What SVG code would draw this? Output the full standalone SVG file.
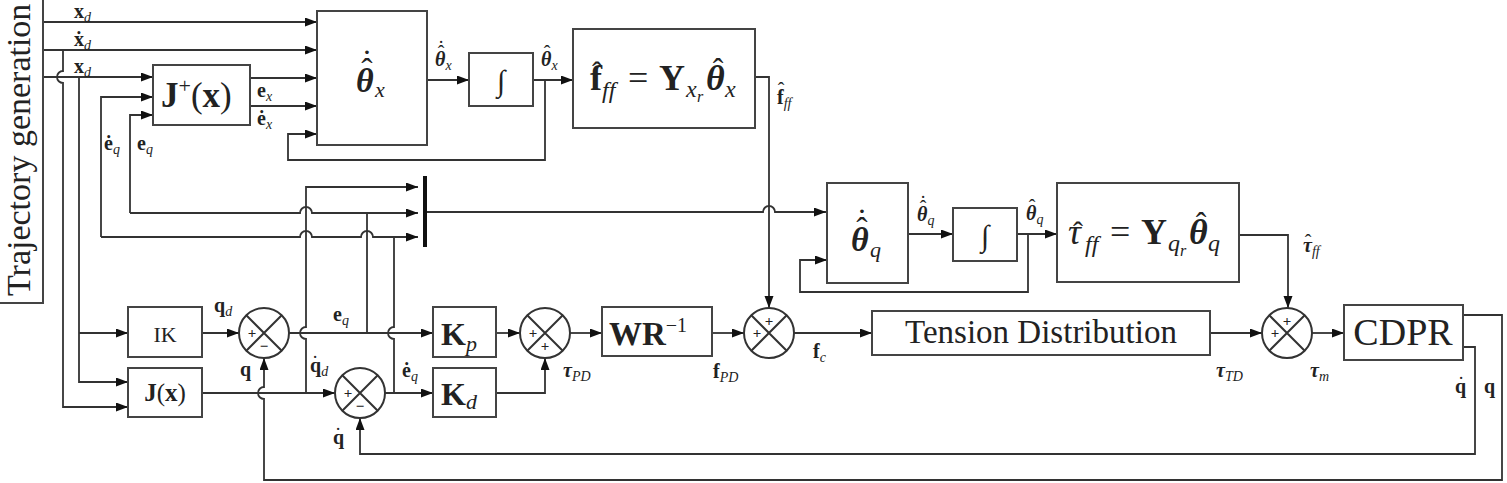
<svg xmlns="http://www.w3.org/2000/svg" width="1507" height="483" viewBox="0 0 1507 483">
<defs>
<style>
.ln{fill:none;stroke:#333;stroke-width:1.8}
.ar{marker-end:url(#ah)}
.bx{fill:#fff;stroke:#444;stroke-width:2}
text{font-family:"Liberation Serif","DejaVu Serif",serif;fill:#222}
.b{font-weight:bold}
.i{font-style:italic}
.bi{font-weight:bold;font-style:italic}
.l{font-size:20px}
.s{font-size:14px;font-style:italic}
.acc{text-anchor:middle}
.sg{font-size:15px;font-weight:bold;text-anchor:middle;dominant-baseline:central}
</style>
<marker id="ah" markerUnits="userSpaceOnUse" markerWidth="13" markerHeight="10" refX="12" refY="4.5" orient="auto">
<path d="M0,0 L12,4.5 L0,9 z" fill="#111"/>
</marker>
<g id="sumsym">
<circle r="25" fill="#fff" stroke="#333" stroke-width="2"/>
<path d="M-17.7,-17.7 L17.7,17.7 M17.7,-17.7 L-17.7,17.7" stroke="#333" stroke-width="2"/>
</g>
</defs>
<rect width="1507" height="483" fill="#fff"/>

<g id="connectors">
<path class="ln ar" d="M43,22 H317"/>
<path class="ln ar" d="M43,50 H317"/>
<path class="ln ar" d="M43,77 H153"/>
<path class="ln ar" d="M63,50 V71 A6,6 0 0 0 63,83 V407 H128"/>
<path class="ln ar" d="M79,77 V382 H128"/>
<path class="ln ar" d="M79,333 H128"/>
<path class="ln ar" d="M250,78 H317"/>
<path class="ln ar" d="M250,106 H317"/>
<path class="ln ar" d="M427,80 H469"/>
<path class="ln ar" d="M533,80 H573"/>
<path class="ln ar" d="M545,80 V160 H288 V134 H317"/>
<path class="ln ar" d="M755,77 H769 V308"/>
<path class="ln ar" d="M130,213 V115 H153"/>
<path class="ln ar" d="M130,213 H300 A6,6 0 0 1 312,213 H418"/>
<path class="ln" d="M367,333 V213"/>
<path class="ln ar" d="M101,237 V97 H153"/>
<path class="ln ar" d="M101,237 H300 A6,6 0 0 1 312,237 H361 A6,6 0 0 1 373,237 H418"/>
<path class="ln" d="M394,393 V339 A6,6 0 0 1 394,327 V237"/>
<path class="ln ar" d="M306,393 V339 A6,6 0 0 1 306,327 V187 H418"/>
<path class="ln ar" d="M425,212 H763 A6,6 0 0 1 775,212 H826"/>
<path class="ln ar" d="M908,234 H953"/>
<path class="ln ar" d="M1017,234 H1057"/>
<path class="ln ar" d="M1028,234 V292 H800 V260 H827"/>
<path class="ln ar" d="M1239,235 H1288 V308"/>
<path class="ln ar" d="M202,333 H239"/>
<path class="ln ar" d="M202,393 H335"/>
<path class="ln ar" d="M289,333 H433"/>
<path class="ln ar" d="M385,393 H433"/>
<path class="ln ar" d="M496,333 H520"/>
<path class="ln ar" d="M496,393 H545 V358"/>
<path class="ln ar" d="M570,333 H602"/>
<path class="ln ar" d="M712,333 H744"/>
<path class="ln ar" d="M794,333 H872"/>
<path class="ln ar" d="M1210,333 H1262"/>
<path class="ln ar" d="M1312,333 H1344"/>
<path class="ln ar" d="M1463,315 H1502 V480 H264 V399 A6,6 0 0 1 264,387 V358"/>
<path class="ln ar" d="M1463,347 H1475 V454 H360 V418"/>
<rect x="423" y="176" width="4" height="71" fill="#111"/>
</g>

<g id="traj">
<rect class="bx" x="-2" y="-2" width="45" height="305"/>
<text transform="translate(30,296) rotate(-90)" font-size="34">Trajectory generation</text>
</g>

<g id="jplus">
<rect class="bx" x="153" y="65" width="97" height="60"/>
<text x="161" y="107" font-size="35"><tspan class="b">J</tspan><tspan font-size="22" dy="-14">+</tspan><tspan dy="14">(</tspan><tspan class="b">x</tspan><tspan>)</tspan></text>
</g>

<g id="thetax">
<rect class="bx" x="317" y="11" width="110" height="134"/>
<text x="356" y="92" font-size="34" class="bi">θ</text>
<text x="375" y="97" font-size="22" class="i">x</text>
<text x="367" y="82" font-size="34" class="acc">ˆ</text>
<text x="367" y="73" font-size="34" class="acc">˙</text>
</g>

<g id="intx">
<rect class="bx" x="469" y="53" width="64" height="53"/>
<text x="501" y="91" font-size="30" text-anchor="middle">∫</text>
</g>

<g id="fff">
<rect class="bx" x="573" y="29" width="182" height="99"/>
<text x="590" y="90" font-size="36" class="b">f</text>
<text x="602" y="98" font-size="24" class="i">ff</text>
<text x="628" y="90" font-size="36">=</text>
<text x="659" y="90" font-size="36" class="b">Y</text>
<text x="686" y="97" font-size="24" class="i">x</text>
<text x="697" y="102" font-size="16" class="i">r</text>
<text x="706" y="90" font-size="36" class="bi">θ</text>
<text x="725" y="97" font-size="24" class="i">x</text>
<text x="597" y="82" font-size="30" class="acc">ˆ</text>
<text x="718" y="80" font-size="32" class="acc">ˆ</text>
</g>

<g id="thetaq">
<rect class="bx" x="827" y="183" width="81" height="100"/>
<text x="851" y="251" font-size="34" class="bi">θ</text>
<text x="870" y="257" font-size="22" class="i">q</text>
<text x="862" y="241" font-size="34" class="acc">ˆ</text>
<text x="862" y="232" font-size="34" class="acc">˙</text>
</g>

<g id="intq">
<rect class="bx" x="953" y="208" width="64" height="53"/>
<text x="985" y="246" font-size="30" text-anchor="middle">∫</text>
</g>

<g id="tauff">
<rect class="bx" x="1057" y="183" width="182" height="99"/>
<text x="1068" y="244" font-size="36" class="i">τ</text>
<text x="1085" y="252" font-size="24" class="i">ff</text>
<text x="1110" y="244" font-size="36">=</text>
<text x="1141" y="244" font-size="36" class="b">Y</text>
<text x="1168" y="251" font-size="24" class="i">q</text>
<text x="1180" y="256" font-size="16" class="i">r</text>
<text x="1189" y="244" font-size="36" class="bi">θ</text>
<text x="1208" y="251" font-size="24" class="i">q</text>
<text x="1078" y="242" font-size="30" class="acc">ˆ</text>
<text x="1201" y="234" font-size="32" class="acc">ˆ</text>
</g>

<g id="ik">
<rect class="bx" x="128" y="307" width="74" height="50"/>
<text x="165" y="342" font-size="22" text-anchor="middle">IK</text>
</g>

<g id="jx">
<rect class="bx" x="128" y="368" width="74" height="49"/>
<text x="165" y="401" font-size="25" text-anchor="middle"><tspan class="b">J</tspan>(<tspan class="b">x</tspan>)</text>
</g>

<g id="sum1">
<use href="#sumsym" x="264" y="333"/>
<text class="sg" x="252" y="333">+</text>
<text class="sg" x="264" y="346">−</text>
</g>

<g id="sum2">
<use href="#sumsym" x="360" y="393"/>
<text class="sg" x="348" y="393">+</text>
<text class="sg" x="360" y="406">−</text>
</g>

<g id="kp">
<rect class="bx" x="433" y="307" width="63" height="50"/>
<text x="441" y="345" font-size="32"><tspan class="b">K</tspan><tspan class="i" font-size="22" dy="6">p</tspan></text>
</g>

<g id="kd">
<rect class="bx" x="433" y="368" width="63" height="49"/>
<text x="441" y="405" font-size="32"><tspan class="b">K</tspan><tspan class="i" font-size="22" dy="4">d</tspan></text>
</g>

<g id="sumpd">
<use href="#sumsym" x="545" y="333"/>
<text class="sg" x="533" y="333">+</text>
<text class="sg" x="545" y="346">+</text>
</g>

<g id="wr">
<rect class="bx" x="602" y="307" width="110" height="49"/>
<text x="609" y="345" font-size="33"><tspan class="b">WR</tspan><tspan font-size="20" dy="-13">−1</tspan></text>
</g>

<g id="sum3">
<use href="#sumsym" x="769" y="333"/>
<text class="sg" x="769" y="321">+</text>
<text class="sg" x="757" y="333">+</text>
</g>

<g id="td">
<rect class="bx" x="872" y="311" width="338" height="44"/>
<text x="1041" y="343" font-size="33" text-anchor="middle">Tension Distribution</text>
</g>

<g id="sum4">
<use href="#sumsym" x="1287" y="333"/>
<text class="sg" x="1287" y="321">+</text>
<text class="sg" x="1275" y="333">+</text>
</g>

<g id="cdpr">
<rect class="bx" x="1344" y="305" width="119" height="55"/>
<text x="1403" y="345" font-size="38" text-anchor="middle">CDPR</text>
</g>

<g id="labels">
<text x="74" y="18" class="l"><tspan class="b">x</tspan><tspan class="s" dy="4">d</tspan></text>
<text x="74" y="46" class="l"><tspan class="b">ẋ</tspan><tspan class="s" dy="4">d</tspan></text>
<text x="74" y="73" class="l"><tspan class="b">x</tspan><tspan class="s" dy="4">d</tspan></text>
<text x="257" y="97" class="l"><tspan class="b">e</tspan><tspan class="s" dy="4">x</tspan></text>
<text x="257" y="125" class="l"><tspan class="b">ė</tspan><tspan class="s" dy="4">x</tspan></text>
<text x="104" y="150" class="l"><tspan class="b">ė</tspan><tspan class="s" dy="4">q</tspan></text>
<text x="137" y="150" class="l"><tspan class="b">e</tspan><tspan class="s" dy="4">q</tspan></text>
<text x="435" y="66" class="l"><tspan class="bi">θ</tspan><tspan class="s" dy="4">x</tspan></text>
<text x="441" y="60" class="l acc">ˆ</text>
<text x="441" y="55" class="l acc">˙</text>
<text x="541" y="66" class="l"><tspan class="bi">θ</tspan><tspan class="s" dy="4">x</tspan></text>
<text x="547" y="60" class="l acc">ˆ</text>
<text x="777" y="104" class="l"><tspan class="b">f</tspan><tspan class="s" dy="4">ff</tspan></text>
<text x="781" y="97" class="l acc">ˆ</text>
<text x="917" y="221" class="l"><tspan class="bi">θ</tspan><tspan class="s" dy="4">q</tspan></text>
<text x="923" y="215" class="l acc">ˆ</text>
<text x="923" y="210" class="l acc">˙</text>
<text x="1026" y="220" class="l"><tspan class="bi">θ</tspan><tspan class="s" dy="4">q</tspan></text>
<text x="1032" y="214" class="l acc">ˆ</text>
<text x="1303" y="252" class="l"><tspan class="bi">τ</tspan><tspan class="s" dy="4">ff</tspan></text>
<text x="1308" y="249" class="l acc">ˆ</text>
<text x="214" y="312" class="l"><tspan class="b">q</tspan><tspan class="s" dy="4">d</tspan></text>
<text x="240" y="376" class="l b">q</text>
<text x="310" y="372" class="l"><tspan class="b">q</tspan><tspan class="s" dy="4">d</tspan></text>
<text x="315" y="370" class="l acc">˙</text>
<text x="333" y="444" class="l b">q</text>
<text x="338" y="442" class="l acc">˙</text>
<text x="333" y="321" class="l"><tspan class="b">e</tspan><tspan class="s" dy="4">q</tspan></text>
<text x="402" y="377" class="l"><tspan class="b">ė</tspan><tspan class="s" dy="4">q</tspan></text>
<text x="563" y="377" class="l"><tspan class="bi">τ</tspan><tspan class="s" dy="4">PD</tspan></text>
<text x="713" y="378" class="l"><tspan class="b">f</tspan><tspan class="s" dy="4">PD</tspan></text>
<text x="813" y="358" class="l"><tspan class="b">f</tspan><tspan class="s" dy="4">c</tspan></text>
<text x="1216" y="377" class="l"><tspan class="bi">τ</tspan><tspan class="s" dy="4">TD</tspan></text>
<text x="1310" y="377" class="l"><tspan class="bi">τ</tspan><tspan class="s" dy="4">m</tspan></text>
<text x="1455" y="393" class="l b">q</text>
<text x="1461" y="391" class="l acc">˙</text>
<text x="1484" y="393" class="l b">q</text>
</g>
</svg>
